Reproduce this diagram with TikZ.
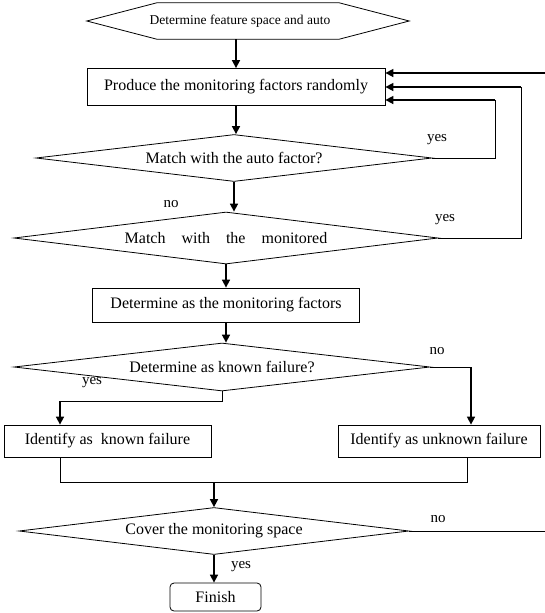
\documentclass[tikz,border=0pt]{standalone}
\usepackage{fontspec}
\setmainfont{Liberation Serif}
\usetikzlibrary{arrows.meta, calc, shapes.geometric}

\tikzset{
  box/.style={draw, line width=0.8pt, inner sep=0pt},
  decision/.style={diamond, draw, line width=0.8pt, inner sep=0pt, shape aspect=10},
  arr/.style={-{Triangle[length=8pt,width=8pt]}, line width=1.6pt},
  lbl/.style={font=\fontsize{15}{17}\selectfont, inner sep=0pt},
}

\begin{document}
\begin{tikzpicture}[x=1pt, y=-1pt, font=\fontsize{16}{18}\selectfont]
\useasboundingbox (0,0) rectangle (545,613);

% Draw start hexagon
\node[inner sep=0pt, minimum width=322pt, minimum height=36pt, font=\fontsize{13.5}{15}\selectfont] (hex) at (248,21) {\hspace{-16pt}Determine feature space and auto};
\draw[line width=0.8pt] (hex.west) -- ([xshift=70pt]hex.north west) -- ([xshift=-70pt]hex.north east) -- (hex.east)
  -- ([xshift=-70pt]hex.south east) -- ([xshift=70pt]hex.south west) -- cycle;

% Draw boxes and decisions
\node[box, minimum width=298pt, minimum height=37pt] (produce) at (236,87) {Produce the monitoring factors randomly};
\node[decision, minimum width=396pt, minimum height=47pt] (auto) at (234,158) {Match with the auto factor?};
\node[decision, minimum width=424pt, minimum height=52pt] (monitored) at (226,238) {Match\quad with\quad the\quad monitored};
\node[box, minimum width=267pt, minimum height=34pt] (asmon) at (226,305) {Determine as the monitoring factors};
\node[decision, minimum width=416pt, minimum height=48pt] (known) at (222,367) {Determine as known failure?};
\node[box, minimum width=207pt, minimum height=32pt] (idknown) at (107.5,441) {Identify as \ known failure};
\node[box, minimum width=202pt, minimum height=32pt] (idunknown) at (439,441) {Identify as unknown failure};
\node[decision, minimum width=390pt, minimum height=47pt] (cover) at (214,531) {Cover the monitoring space};
\node[box, rounded corners=4pt, minimum width=91pt, minimum height=28pt] (finish) at (215.5,597) {Finish};

% Bend points and free ends
\coordinate (loopA) at (495,100);
\coordinate (loopB) at (521,87);
\coordinate (loopC) at (545,73);
\coordinate (edgeD) at (545,531);
\coordinate (yesK) at (60,401);
\coordinate (noK) at (471,367);
\coordinate (mergeL) at (60,482);
\coordinate (mergeR) at (467,482);
\coordinate (merge) at (214,482);

% Draw main arrows
\draw[arr] (hex.south -| produce.north) -- (produce.north);
\draw[arr] (produce.south) -- (produce.south |- auto.north);
\draw[arr] (auto.south) -- (auto.south |- monitored.north);
\draw[arr] (monitored.south) -- (asmon.north);
\draw[arr] (asmon.south) -- (asmon.south |- known.north);
\draw[arr] (merge) -- (cover.north);
\draw[arr] (cover.south) -- (cover.south |- finish.north);

% Draw loops back to the producer
\draw[line width=0.8pt] (auto.east) -| (loopA);
\draw[arr] (loopA) -- (loopA -| produce.east);
\draw[line width=0.8pt] (monitored.east) -| (loopB);
\draw[arr] (loopB) -- (loopB -| produce.east);
\draw[arr] (loopC) -- (loopC -| produce.east);
\draw[line width=0.8pt] (cover.east) -- (edgeD);

% Draw failure branches
\draw[line width=0.8pt] (known.south) |- (yesK);
\draw[arr] (yesK) -- (yesK |- idknown.north);
\draw[line width=0.8pt] (known.east) -- (noK);
\draw[arr] (noK) -- (noK |- idunknown.north);
\draw[line width=0.8pt] (idknown.south -| mergeL) -- (mergeL) -- (mergeR) -- (idunknown.south -| mergeR);

% Labels
\node[lbl] (yesA) at (437,140) {yes};
\node[lbl] (noA) at (171,204) {no};
\node[lbl] (yesB) at (445,220) {yes};
\node[lbl] (noKl) at (437,351) {no};
\node[lbl] (yesKl) at (92,383) {yes};
\node[lbl] (noC) at (438,519) {no};
\node[lbl] (yesC) at (241,567) {yes};
\end{tikzpicture}
\end{document}
